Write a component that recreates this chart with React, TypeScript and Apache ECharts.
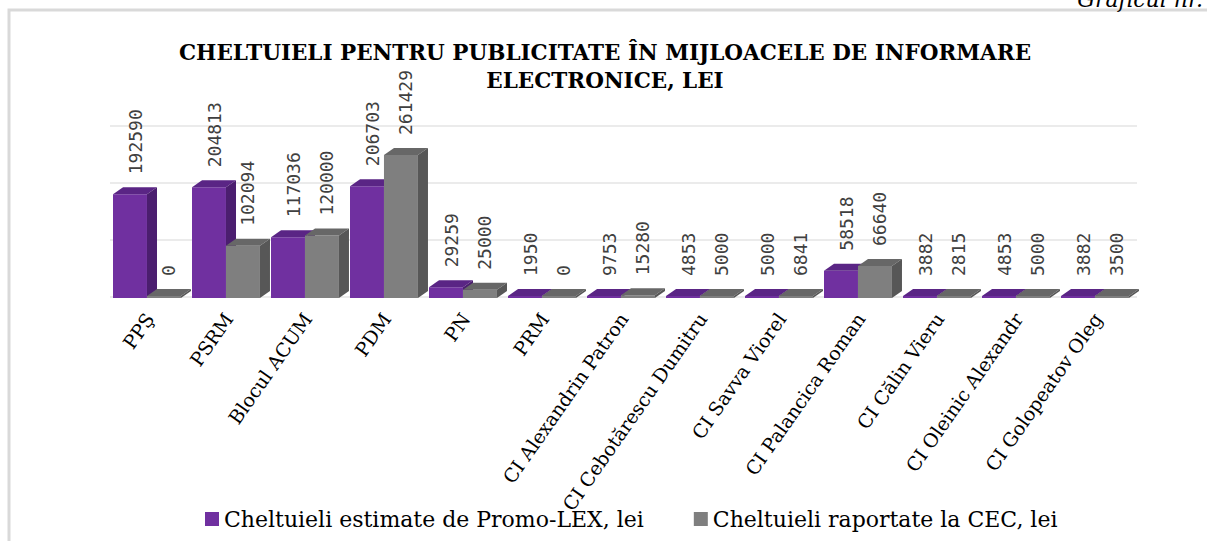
import React, { useEffect, useRef } from "react";
import * as echarts from "echarts";

const categories = [
  "PPŞ",
  "PSRM",
  "Blocul ACUM",
  "PDM",
  "PN",
  "PRM",
  "CI Alexandrin Patron",
  "CI Cebotărescu Dumitru",
  "CI Savva Viorel",
  "CI Palancica Roman",
  "CI Călin Vieru",
  "CI Oleinic Alexandr",
  "CI Golopeatov Oleg",
];
const estimated = [192590, 204813, 117036, 206703, 29259, 1950, 9753, 4853, 5000, 58518, 3882, 4853, 3882];
const reported = [0, 102094, 120000, 261429, 25000, 0, 15280, 5000, 6841, 66640, 2815, 5000, 3500];
const seriesNames = ["Cheltuieli estimate de Promo-LEX, lei", "Cheltuieli raportate la CEC, lei"];
const titleText = "CHELTUIELI PENTRU PUBLICITATE ÎN MIJLOACELE DE INFORMARE\nELECTRONICE, LEI";

const palettes = [
  { front: "#7030A0", top: "#5A2585", side: "#4B1E6F" },
  { front: "#7F7F7F", top: "#676767", side: "#575757" },
];

function makeRender(seriesIdx: number) {
  return (params: any, api: any) => {
    const idx = api.value(0);
    const v = api.value(1);
    const [cx, yTop] = api.coord([idx, v]);
    const [, y0] = api.coord([idx, 0]);
    const bw = api.size([1, 0])[0];
    const barW = bw * 0.43;
    const dx = bw * 0.127;
    const dy = 7;
    const x0 = cx - bw * 0.462 + seriesIdx * barW;
    const x1 = x0 + barW;
    const frontBottom = y0 + 1;
    const frontTop = Math.min(yTop + dy, frontBottom - 2);
    const backTop = frontTop - dy;
    const pal = palettes[seriesIdx];
    return {
      type: "group",
      children: [
        {
          type: "polygon",
          shape: { points: [[x0, frontTop], [x1, frontTop], [x1, frontBottom], [x0, frontBottom]] },
          style: { fill: pal.front },
        },
        {
          type: "polygon",
          shape: { points: [[x0, frontTop], [x1, frontTop], [x1 + dx, backTop], [x0 + dx, backTop]] },
          style: { fill: pal.top },
        },
        {
          type: "polygon",
          shape: { points: [[x1, frontTop], [x1 + dx, backTop], [x1 + dx, frontBottom - dy], [x1, frontBottom]] },
          style: { fill: pal.side },
        },
        {
          type: "text",
          x: x0 + barW / 2 + dx / 2,
          y: backTop - 13,
          rotation: Math.PI / 2,
          style: {
            text: String(v),
            fill: "#404040",
            font: "18px 'DejaVu Sans Mono'",
            align: "left",
            verticalAlign: "middle",
          },
        },
      ],
    };
  };
}

export default function App() {
  const ref = useRef<HTMLDivElement>(null);
  useEffect(() => {
    if (!ref.current) return;
    const chart = echarts.init(ref.current, undefined, { renderer: "svg" });
    const option: any = {
      animation: false,
      backgroundColor: "#ffffff",
      title: {
        text: titleText,
        left: 600,
        top: 33,
        textAlign: "center",
        textStyle: {
          fontFamily: "'DejaVu Serif'",
          fontWeight: "bold",
          fontSize: 21.5,
          lineHeight: 28,
          color: "#000",
          align: "center",
        },
      },
      legend: {
        left: 200,
        top: 503,
        itemWidth: 14,
        itemHeight: 14,
        itemGap: 50,
        icon: "rect",
        textStyle: { fontFamily: "'DejaVu Serif'", fontSize: 22, color: "#000" },
        data: seriesNames,
      },
      grid: { left: 110, width: 1027, top: 126, height: 171, containLabel: false },
      xAxis: {
        type: "category",
        data: categories,
        axisLine: { show: false },
        axisTick: { show: false },
        axisLabel: {
          interval: 0,
          rotate: 55,
          margin: 18,
          fontFamily: "'DejaVu Serif'",
          fontSize: 19,
          color: "#000",
        },
      },
      yAxis: {
        type: "value",
        min: 0,
        max: 300000,
        interval: 100000,
        axisLabel: { show: false },
        axisLine: { show: false },
        axisTick: { show: false },
        splitLine: { lineStyle: { color: "#ebebeb", width: 2 } },
      },
      graphic: [
        {
          type: "rect",
          shape: { x: 9, y: 10, width: 1400, height: 800 },
          style: { fill: "none", stroke: "#d9d9d9", lineWidth: 3 },
          silent: true,
        },
        {
          type: "text",
          x: 1203,
          y: 10,
          style: {
            text: "Graficul nr.",
            font: "italic 22px 'DejaVu Serif'",
            fill: "#000",
            align: "right",
            verticalAlign: "bottom",
          },
        },
      ],
      series: [
        {
          name: seriesNames[0],
          type: "custom",
          itemStyle: { color: palettes[0].front },
          renderItem: makeRender(0),
          data: estimated.map((v, i) => [i, v]),
        },
        {
          name: seriesNames[1],
          type: "custom",
          itemStyle: { color: palettes[1].front },
          renderItem: makeRender(1),
          data: reported.map((v, i) => [i, v]),
        },
      ],
    };
    chart.setOption(option);
    return () => chart.dispose();
  }, []);
  return (
    <div
      ref={ref}
      style={{ position: "absolute", left: 0, top: 0, width: 1207, height: 541 }}
    />
  );
}
